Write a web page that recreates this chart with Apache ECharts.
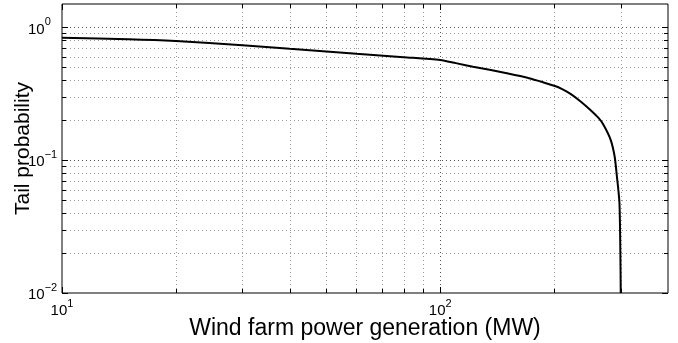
<!DOCTYPE html>
<html>
<head>
<meta charset="utf-8">
<script src="https://cdn.jsdelivr.net/npm/echarts@6.0.0/dist/echarts.min.js"></script>
<style>
  html, body { margin: 0; padding: 0; background: #fff; }
  #chart { width: 678px; height: 343px; }
</style>
</head>
<body>
<div id="chart"></div>
<script>
// Complementary CDF of wind farm output: P(generation > x)
const powerMW = [10, 15, 20, 30, 40, 60, 80, 100, 110, 122, 135, 150, 170, 184, 201, 210, 221, 235, 249, 262, 270, 282, 289, 293, 297.6, 299.3, 300];
const tailProb = [0.835, 0.815, 0.79, 0.735, 0.69, 0.633, 0.597, 0.569, 0.538, 0.506, 0.48, 0.452, 0.418, 0.391, 0.362, 0.343, 0.316, 0.277, 0.24, 0.208, 0.185, 0.143, 0.107, 0.076, 0.048, 0.0204, 0.01];

// Axis ranges
const xRange = [10, 400];
const yRange = [0.01, 1.5];

// Grid/tick positions: decades and the 2..9 multiples in between
const xDecades = [10, 100];
const xMinor = [20, 30, 40, 50, 60, 70, 80, 90, 200, 300];
const yDecades = [0.01, 0.1, 1];
const yMinor = [0.02, 0.03, 0.04, 0.05, 0.06, 0.07, 0.08, 0.09, 0.2, 0.3, 0.4, 0.5, 0.6, 0.7, 0.8, 0.9];

const FONT = '"Liberation Sans", Arial, Helvetica, sans-serif';

function isDecade(v) {
  const e = Math.log10(v);
  return Math.abs(e - Math.round(e)) < 1e-6;
}
function powerLabel(v) {
  if (!isDecade(v)) return '';
  const e = Math.round(Math.log10(v));
  const exp = e < 0 ? '\u2212' + (-e) : String(e);
  return '{b|10}{s|' + exp + '}';
}
const richPow = {
  b: { fontSize: 15, lineHeight: 15, verticalAlign: 'bottom', fontFamily: FONT, color: '#000' },
  s: { fontSize: 11, lineHeight: 11, verticalAlign: 'bottom', padding: [0, 0, 9, 0], fontFamily: FONT, color: '#000' }
};

// Items for the grid/tick layer: [x, y, orientation (0 = vertical line), isMajor]
const gridItems = [];
xDecades.forEach(v => gridItems.push([v, 1, 0, 1]));
xMinor.forEach(v => gridItems.push([v, 1, 0, 0]));
yDecades.forEach(v => gridItems.push([100, v, 1, 1]));
yMinor.forEach(v => gridItems.push([100, v, 1, 0]));

function renderGrid(params, api) {
  const cs = params.coordSys;
  const vertical = api.value(2) === 0;
  const major = api.value(3) === 1;
  const len = major ? 6 : 4;
  const tickStyle = { stroke: '#000', lineWidth: 1 };
  const gridStyle = { stroke: major ? '#555' : '#9a9a9a', lineWidth: 1, lineDash: [1, 3] };
  const left = cs.x, right = cs.x + cs.width, top = cs.y, bottom = cs.y + cs.height;
  const children = [];
  if (vertical) {
    const px = Math.round(api.coord([api.value(0), 1])[0]) + 0.5;
    if (px > left + 1 && px < right - 1) {
      children.push({ type: 'line', shape: { x1: px, y1: top, x2: px, y2: bottom }, style: gridStyle, silent: true });
    }
    children.push({ type: 'line', shape: { x1: px, y1: bottom, x2: px, y2: bottom - len }, style: tickStyle, silent: true });
    children.push({ type: 'line', shape: { x1: px, y1: top, x2: px, y2: top + len }, style: tickStyle, silent: true });
  } else {
    const py = Math.round(api.coord([100, api.value(1)])[1]) + 0.5;
    if (py > top + 1 && py < bottom - 1) {
      children.push({ type: 'line', shape: { x1: left, y1: py, x2: right, y2: py }, style: gridStyle, silent: true });
    }
    children.push({ type: 'line', shape: { x1: left, y1: py, x2: left + len, y2: py }, style: tickStyle, silent: true });
    children.push({ type: 'line', shape: { x1: right, y1: py, x2: right - len, y2: py }, style: tickStyle, silent: true });
  }
  return { type: 'group', children: children };
}

const chart = echarts.init(document.getElementById('chart'), null, { renderer: 'canvas' });
chart.setOption({
  animation: false,
  backgroundColor: '#fff',
  grid: {
    left: 62, top: 4, width: 606, height: 289,
    containLabel: false,
    outerBoundsMode: 'none',
    show: true, borderColor: '#000', borderWidth: 1, backgroundColor: 'transparent'
  },
  xAxis: {
    type: 'log', logBase: 10, min: xRange[0], max: xRange[1],
    name: 'Wind farm power generation (MW)',
    nameLocation: 'middle', nameGap: 24, nameMoveOverlap: false,
    nameTextStyle: { fontSize: 23, fontFamily: FONT, color: '#000', verticalAlign: 'top' },
    axisLine: { show: false },
    axisTick: { show: false },
    splitLine: { show: false },
    minorTick: { show: false },
    axisLabel: { margin: 10, formatter: powerLabel, rich: richPow, showMinLabel: true, showMaxLabel: true }
  },
  yAxis: {
    type: 'log', logBase: 10, min: yRange[0], max: yRange[1],
    name: 'Tail probability',
    nameLocation: 'middle', nameGap: 28, nameMoveOverlap: false,
    nameTextStyle: { fontSize: 21, fontFamily: FONT, color: '#000' },
    axisLine: { show: false },
    axisTick: { show: false },
    splitLine: { show: false },
    axisLabel: { margin: 34, align: 'left', formatter: powerLabel, rich: richPow, padding: [4, 0, 0, 0] }
  },
  series: [
    {
      type: 'custom',
      coordinateSystem: 'cartesian2d',
      renderItem: renderGrid,
      data: gridItems,
      clip: false,
      silent: true,
      z: 1
    },
    {
      type: 'line',
      data: powerMW.map((x, i) => [x, tailProb[i]]),
      showSymbol: false,
      smooth: 0.25,
      lineStyle: { color: '#000', width: 2 },
      itemStyle: { color: '#000' },
      clip: true,
      z: 3
    }
  ]
});
</script>
</body>
</html>
